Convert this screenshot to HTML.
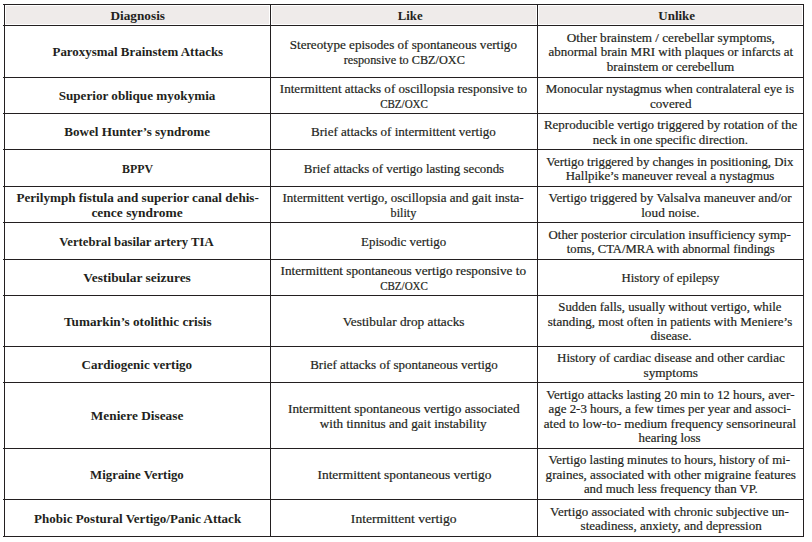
<!DOCTYPE html><html><head><meta charset="utf-8"><title>Table</title><style>
*{margin:0;padding:0;box-sizing:border-box}
html,body{width:812px;height:542px;background:#fff;overflow:hidden}
body{position:relative;font-family:"Liberation Serif",serif;font-size:13px;color:#231f20}
.h{position:absolute;height:1px;background:#231f20}
.v{position:absolute;width:1px;background:#231f20}
.g{position:absolute;background:#efebea}
.c{position:absolute;display:flex;flex-direction:column;align-items:center;justify-content:center;text-align:center;line-height:14.4px}
.c div{white-space:nowrap;-webkit-text-stroke:0.2px #231f20}
.b{font-weight:bold}
.b div{-webkit-text-stroke:0}
</style></head><body>
<div class="g" style="left:6px;top:6px;width:263px;height:18px"></div>
<div class="g" style="left:272px;top:6px;width:264px;height:18px"></div>
<div class="g" style="left:539px;top:6px;width:263px;height:18px"></div>
<div class="h" style="left:3px;top:4px;width:801px"></div>
<div class="h" style="left:3px;top:25px;width:801px"></div>
<div class="h" style="left:3px;top:77px;width:801px"></div>
<div class="h" style="left:3px;top:113px;width:801px"></div>
<div class="h" style="left:3px;top:149px;width:801px"></div>
<div class="h" style="left:3px;top:186px;width:801px"></div>
<div class="h" style="left:3px;top:222px;width:801px"></div>
<div class="h" style="left:3px;top:259px;width:801px"></div>
<div class="h" style="left:3px;top:295px;width:801px"></div>
<div class="h" style="left:3px;top:346px;width:801px"></div>
<div class="h" style="left:3px;top:382px;width:801px"></div>
<div class="h" style="left:3px;top:448px;width:801px"></div>
<div class="h" style="left:3px;top:499px;width:801px"></div>
<div class="h" style="left:3px;top:536px;width:801px"></div>
<div class="v" style="left:4px;top:4px;height:533px"></div>
<div class="v" style="left:270px;top:4px;height:533px"></div>
<div class="v" style="left:537px;top:4px;height:533px"></div>
<div class="v" style="left:803px;top:4px;height:533px"></div>
<div class="c b" style="left:5px;top:6px;width:265px;height:20px"><div style="transform:translateX(0.0px) scaleX(1.0189);">Diagnosis</div></div>
<div class="c b" style="left:271px;top:6px;width:266px;height:20px"><div style="transform:translateX(6.55px) scaleX(0.9792);">Like</div></div>
<div class="c b" style="left:538px;top:6px;width:265px;height:20px"><div style="transform:translateX(6.2px) scaleX(1.0);">Unlike</div></div>
<div class="c b" style="left:5px;top:27px;width:265px;height:51px"><div style="transform:translateX(0.0px) scaleX(0.9942);">Paroxysmal Brainstem Attacks</div></div>
<div class="c" style="left:271px;top:27px;width:266px;height:51px"><div style="transform:translateX(-0.3px) scaleX(1.0089);">Stereotype episodes of spontaneous vertigo</div><div style="transform:translateX(0.0px) scaleX(0.9422);">responsive to CBZ/OXC</div></div>
<div class="c" style="left:538px;top:27px;width:265px;height:51px"><div style="transform:translateX(0.15px) scaleX(1.0132);">Other brainstem / cerebellar symptoms,</div><div style="transform:translateX(0.2px) scaleX(0.9976);">abnormal brain MRI with plaques or infarcts at</div><div style="transform:translateX(0.35px) scaleX(1.0087);">brainstem or cerebellum</div></div>
<div class="c b" style="left:5px;top:79px;width:265px;height:35px"><div style="transform:translateX(-0.51px) scaleX(1.0104);">Superior oblique myokymia</div></div>
<div class="c" style="left:271px;top:79px;width:266px;height:35px"><div style="transform:translateX(-0.5px) scaleX(1.0057);">Intermittent attacks of oscillopsia responsive to</div><div style="transform:translateX(-0.15px) scaleX(0.8482);">CBZ/OXC</div></div>
<div class="c" style="left:538px;top:79px;width:265px;height:35px"><div style="transform:translateX(-0.5px) scaleX(0.9976);">Monocular nystagmus when contralateral eye is</div><div style="transform:translateX(0.15px) scaleX(1.0073);">covered</div></div>
<div class="c b" style="left:5px;top:115px;width:265px;height:35px"><div style="transform:translateX(-0.15px) scaleX(1.0077);">Bowel Hunter’s syndrome</div></div>
<div class="c" style="left:271px;top:115px;width:266px;height:35px"><div style="transform:translateX(-0.65px) scaleX(1.0038);">Brief attacks of intermittent vertigo</div></div>
<div class="c" style="left:538px;top:115px;width:265px;height:35px"><div style="transform:translateX(-0.15px) scaleX(0.9996);">Reproducible vertigo triggered by rotation of the</div><div style="transform:translateX(0.2px) scaleX(0.9935);">neck in one specific direction.</div></div>
<div class="c b" style="left:5px;top:151px;width:265px;height:36px"><div style="transform:translateX(-0.5px) scaleX(0.9152);">BPPV</div></div>
<div class="c" style="left:271px;top:151px;width:266px;height:36px"><div style="transform:translateX(-0.3px) scaleX(0.9891);">Brief attacks of vertigo lasting seconds</div></div>
<div class="c" style="left:538px;top:151px;width:265px;height:36px"><div style="transform:translateX(-0.64px) scaleX(0.9852);">Vertigo triggered by changes in positioning, Dix</div><div style="transform:translateX(-0.34px) scaleX(0.989);">Hallpike’s maneuver reveal a nystagmus</div></div>
<div class="c b" style="left:5px;top:188px;width:265px;height:35px"><div style="transform:translateX(-0.35px) scaleX(1.0105);">Perilymph fistula and superior canal dehis-</div><div style="transform:translateX(-0.05px) scaleX(1.0356);">cence syndrome</div></div>
<div class="c" style="left:271px;top:188px;width:266px;height:35px"><div style="transform:translateX(-1.2px) scaleX(1.0033);">Intermittent vertigo, oscillopsia and gait insta-</div><div style="transform:translateX(-0.3px) scaleX(0.9357);">bility</div></div>
<div class="c" style="left:538px;top:188px;width:265px;height:35px"><div style="transform:translateX(-0.3px) scaleX(1.0017);">Vertigo triggered by Valsalva maneuver and/or</div><div style="transform:translateX(-0.15px) scaleX(1.0236);">loud noise.</div></div>
<div class="c b" style="left:5px;top:224px;width:265px;height:36px"><div style="transform:translateX(-0.69px) scaleX(0.9747);">Vertebral basilar artery TIA</div></div>
<div class="c" style="left:271px;top:224px;width:266px;height:36px"><div style="transform:translateX(-0.15px) scaleX(0.994);">Episodic vertigo</div></div>
<div class="c" style="left:538px;top:224px;width:265px;height:36px"><div style="transform:translateX(-0.65px) scaleX(0.9906);">Other posterior circulation insufficiency symp-</div><div style="transform:translateX(-0.15px) scaleX(0.9723);">toms, CTA/MRA with abnormal findings</div></div>
<div class="c b" style="left:5px;top:261px;width:265px;height:35px"><div style="transform:translateX(0.0px) scaleX(1.033);">Vestibular seizures</div></div>
<div class="c" style="left:271px;top:261px;width:266px;height:35px"><div style="transform:translateX(-0.3px) scaleX(1.0183);">Intermittent spontaneous vertigo responsive to</div><div style="transform:translateX(-0.15px) scaleX(0.8482);">CBZ/OXC</div></div>
<div class="c" style="left:538px;top:261px;width:265px;height:35px"><div style="transform:translateX(-0.35px) scaleX(0.9828);">History of epilepsy</div></div>
<div class="c b" style="left:5px;top:297px;width:265px;height:50px"><div style="transform:translateX(0.0px) scaleX(1.0138);">Tumarkin’s otolithic crisis</div></div>
<div class="c" style="left:271px;top:297px;width:266px;height:50px"><div style="transform:translateX(0.0px) scaleX(1.022);">Vestibular drop attacks</div></div>
<div class="c" style="left:538px;top:297px;width:265px;height:50px"><div style="transform:translateX(-0.64px) scaleX(0.9827);">Sudden falls, usually without vertigo, while</div><div style="transform:translateX(-0.5px) scaleX(1.0);">standing, most often in patients with Meniere’s</div><div style="transform:translateX(0.55px) scaleX(1.0075);">disease.</div></div>
<div class="c b" style="left:5px;top:348px;width:265px;height:35px"><div style="transform:translateX(-0.2px) scaleX(1.0037);">Cardiogenic vertigo</div></div>
<div class="c" style="left:271px;top:348px;width:266px;height:35px"><div style="transform:translateX(0.0px) scaleX(1.0);">Brief attacks of spontaneous vertigo</div></div>
<div class="c" style="left:538px;top:348px;width:265px;height:35px"><div style="transform:translateX(0.2px) scaleX(1.0018);">History of cardiac disease and other cardiac</div><div style="transform:translateX(0.0px) scaleX(1.0189);">symptoms</div></div>
<div class="c b" style="left:5px;top:384px;width:265px;height:65px"><div style="transform:translateX(-0.15px) scaleX(1.0236);">Meniere Disease</div></div>
<div class="c" style="left:271px;top:384px;width:266px;height:65px"><div style="transform:translateX(0.0px) scaleX(1.0268);">Intermittent spontaneous vertigo associated</div><div style="transform:translateX(-0.5px) scaleX(1.0085);">with tinnitus and gait instability</div></div>
<div class="c" style="left:538px;top:384px;width:265px;height:65px"><div style="transform:translateX(-0.65px) scaleX(0.9932);">Vertigo attacks lasting 20 min to 12 hours, aver-</div><div style="transform:translateX(-0.3px) scaleX(0.9934);">age 2-3 hours, a few times per year and associ-</div><div style="transform:translateX(-0.05px) scaleX(1.0092);">ated to low-to- medium frequency sensorineural</div><div style="transform:translateX(-0.65px) scaleX(0.9919);">hearing loss</div></div>
<div class="c b" style="left:5px;top:450px;width:265px;height:50px"><div style="transform:translateX(-0.54px) scaleX(0.9862);">Migraine Vertigo</div></div>
<div class="c" style="left:271px;top:450px;width:266px;height:50px"><div style="transform:translateX(0.0px) scaleX(1.0298);">Intermittent spontaneous vertigo</div></div>
<div class="c" style="left:538px;top:450px;width:265px;height:50px"><div style="transform:translateX(-0.75px) scaleX(0.9897);">Vertigo lasting minutes to hours, history of mi-</div><div style="transform:translateX(-0.1px) scaleX(1.0105);">graines, associated with other migraine features</div><div style="transform:translateX(-0.15px) scaleX(0.988);">and much less frequency than VP.</div></div>
<div class="c b" style="left:5px;top:501px;width:265px;height:36px"><div style="transform:translateX(0.15px) scaleX(1.0005);">Phobic Postural Vertigo/Panic Attack</div></div>
<div class="c" style="left:271px;top:501px;width:266px;height:36px"><div style="transform:translateX(0.0px) scaleX(1.042);">Intermittent vertigo</div></div>
<div class="c" style="left:538px;top:501px;width:265px;height:36px"><div style="transform:translateX(-0.55px) scaleX(0.9946);">Vertigo associated with chronic subjective un-</div><div style="transform:translateX(0.8px) scaleX(1.0022);">steadiness, anxiety, and depression</div></div>
</body></html>
